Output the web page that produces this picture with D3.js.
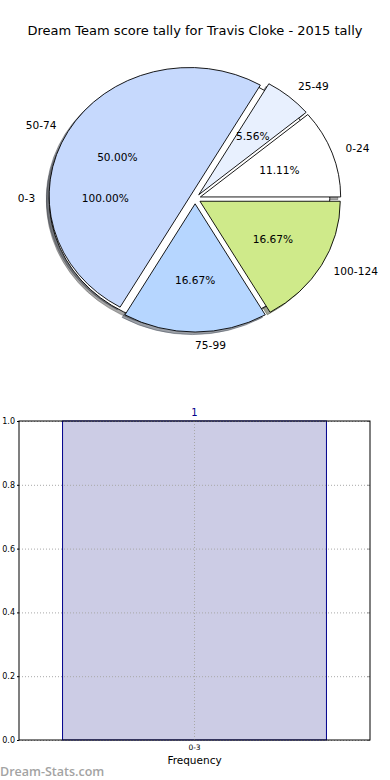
<!DOCTYPE html>
<html>
<head>
<meta charset="utf-8">
<script src="https://cdn.jsdelivr.net/npm/d3@7"></script>
<style>
  body { margin: 0; background: #fff; }
  text { font-family: "DejaVu Sans", sans-serif; }
</style>
</head>
<body>
<div id="chart"></div>
<script>
// === DONNÉES ===
const title = "Dream Team score tally for Travis Cloke - 2015 tally";
const innerLabels = ["0-3"];
const innerValues = [1];
const innerColors = ["#ffffff"];
const pieLabels = ["0-24", "25-49", "50-74", "75-99", "100-124"];
const pieValues = [2, 1, 9, 3, 3];
const pieColors = ["#ffffff", "#e8f0fe", "#c6d9fd", "#b6d6ff", "#cfea8a"];
const barCategories = ["0-3"];
const barValues = [1];
const yTicks = [0, 0.2, 0.4, 0.6, 0.8, 1.0];

// === CONFIGURATION ===
const W = 390, H = 780;
const explode = 0.04;
const pie = { cx: 195.1, cy: 198.7, rx: 140.3, ry: 128.2 };
const bar = { left: 19, right: 370, top: 421, bottom: 740 };

const svg = d3.select("#chart").append("svg")
  .attr("width", W)
  .attr("height", H);

svg.append("text")
  .attr("x", W / 2)
  .attr("y", 35)
  .attr("text-anchor", "middle")
  .style("font-size", "13px")
  .text(title);

// === CAMEMBERT (façon matplotlib, non équilibré => ellipse) ===
const px = d3.scaleLinear().domain([-1, 1]).range([pie.cx - pie.rx, pie.cx + pie.rx]);
const py = d3.scaleLinear().domain([-1, 1]).range([pie.cy + pie.ry, pie.cy - pie.ry]);

// angles d3 : 0 = midi, sens horaire ; on part de 3h dans le sens anti-horaire
const pieGen = d3.pie().sort(null).startAngle(Math.PI / 2).endAngle(Math.PI / 2 - 2 * Math.PI);
const arcGen = d3.arc().innerRadius(0).outerRadius(1);

function layout(values, labels, colors) {
  return pieGen(values).map((d, i) => {
    const m = (d.startAngle + d.endAngle) / 2;
    return {
      arc: d, label: labels[i], color: colors[i],
      ux: Math.sin(m), uy: Math.cos(m),
      pct: (d.value / d3.sum(values) * 100).toFixed(2) + "%"
    };
  });
}
const inner = layout(innerValues, innerLabels, innerColors);
const outer = layout(pieValues, pieLabels, pieColors);
const all = inner.concat(outer);

const shade = c => {
  const k = d3.rgb(c);
  return d3.rgb(k.r * 0.3, k.g * 0.3, k.b * 0.3).toString();
};

// ombres d'abord (zorder plus bas)
svg.append("g").selectAll("path")
  .data(all)
  .join("path")
  .attr("transform", d => `translate(${px(d.ux * explode - 0.02)},${py(d.uy * explode - 0.02)}) scale(${pie.rx},${pie.ry})`)
  .attr("d", d => arcGen(d.arc))
  .attr("fill", d => shade(d.color))
  .attr("fill-opacity", 0.5)
  .attr("stroke", d => shade(d.color))
  .attr("stroke-opacity", 0.5)
  .attr("stroke-width", 0.9)
  .attr("vector-effect", "non-scaling-stroke");

svg.append("g").selectAll("path")
  .data(all)
  .join("path")
  .attr("transform", d => `translate(${px(d.ux * explode)},${py(d.uy * explode)}) scale(${pie.rx},${pie.ry})`)
  .attr("d", d => arcGen(d.arc))
  .attr("fill", d => d.color)
  .attr("stroke", "#000")
  .attr("stroke-width", 0.9)
  .attr("vector-effect", "non-scaling-stroke");

// étiquettes et pourcentages
svg.append("g").selectAll("text")
  .data(all)
  .join("text")
  .attr("x", d => px(d.ux * (explode + 1.1)))
  .attr("y", d => py(d.uy * (explode + 1.1)))
  .attr("dy", "0.35em")
  .attr("text-anchor", d => d.ux > -1e-6 ? "start" : "end")
  .style("font-size", "10.6px")
  .text(d => d.label);

svg.append("g").selectAll("text")
  .data(all)
  .join("text")
  .attr("x", d => px(d.ux * (explode + 0.6)))
  .attr("y", d => py(d.uy * (explode + 0.6)))
  .attr("dy", "0.35em")
  .attr("text-anchor", "middle")
  .style("font-size", "10.6px")
  .text(d => d.pct);

// === HISTOGRAMME ===
const x = d3.scaleBand()
  .domain(barCategories)
  .range([bar.left, bar.right])
  .paddingInner(0)
  .paddingOuter(0.165);

const y = d3.scaleLinear()
  .domain([0, 1])
  .range([bar.bottom, bar.top]);

const plot = svg.append("g");

plot.selectAll("rect.bar")
  .data(barValues)
  .join("rect")
  .attr("class", "bar")
  .attr("x", (d, i) => x(barCategories[i]))
  .attr("y", d => y(d))
  .attr("width", x.bandwidth())
  .attr("height", d => y(0) - y(d))
  .attr("fill", "#ccccE5")
  .attr("stroke", "#00008b")
  .attr("stroke-width", 1);

// grille pointillée
plot.append("g")
  .attr("transform", `translate(${bar.left},0)`)
  .call(d3.axisLeft(y).tickValues(yTicks).tickSize(-(bar.right - bar.left)).tickFormat(""))
  .call(g => g.select(".domain").remove())
  .call(g => g.selectAll("line").attr("stroke", "#a8a8a8").attr("stroke-dasharray", "1,2"));

plot.append("g")
  .attr("transform", `translate(0,${bar.bottom})`)
  .call(d3.axisBottom(x).tickSize(-(bar.bottom - bar.top)).tickFormat(""))
  .call(g => g.select(".domain").remove())
  .call(g => g.selectAll("line").attr("stroke", "#a8a8a8").attr("stroke-dasharray", "1,2"));

// axes
plot.append("g")
  .attr("transform", `translate(${bar.left},0)`)
  .call(d3.axisLeft(y).tickValues(yTicks).tickSize(2).tickPadding(2).tickFormat(d3.format(".1f")))
  .call(g => g.select(".domain").remove())
  .call(g => g.selectAll("text").style("font-size", "8px").attr("fill", "#000"));

plot.append("g")
  .attr("transform", `translate(${bar.right},0)`)
  .call(d3.axisLeft(y).tickValues(yTicks).tickSize(3).tickFormat(""))
  .call(g => g.select(".domain").remove())
  .call(g => g.selectAll("line").attr("stroke", "#999"));

plot.append("g")
  .attr("transform", `translate(0,${bar.bottom})`)
  .call(d3.axisBottom(x).tickSize(0).tickPadding(5))
  .call(g => g.select(".domain").remove())
  .call(g => g.selectAll("text").style("font-size", "7.5px").attr("fill", "#000"));

plot.append("rect")
  .attr("x", bar.left)
  .attr("y", bar.top)
  .attr("width", bar.right - bar.left)
  .attr("height", bar.bottom - bar.top)
  .attr("fill", "none")
  .attr("stroke", "#000")
  .attr("stroke-width", 1);

// valeur au-dessus de la barre
plot.selectAll("text.value")
  .data(barValues)
  .join("text")
  .attr("class", "value")
  .attr("x", (d, i) => x(barCategories[i]) + x.bandwidth() / 2)
  .attr("y", d => y(d) - 5)
  .attr("text-anchor", "middle")
  .style("font-size", "10px")
  .attr("fill", "#00008b")
  .text(d => d);

svg.append("text")
  .attr("x", (bar.left + bar.right) / 2)
  .attr("y", 764)
  .attr("text-anchor", "middle")
  .style("font-size", "10.5px")
  .text("Frequency");

svg.append("text")
  .attr("x", 0)
  .attr("y", 776)
  .style("font-family", "'Open Sans', sans-serif")
  .style("font-size", "12.5px")
  .style("font-weight", "600")
  .attr("fill", "#a3a3a3")
  .text("Dream-Stats.com");
</script>
</body>
</html>
